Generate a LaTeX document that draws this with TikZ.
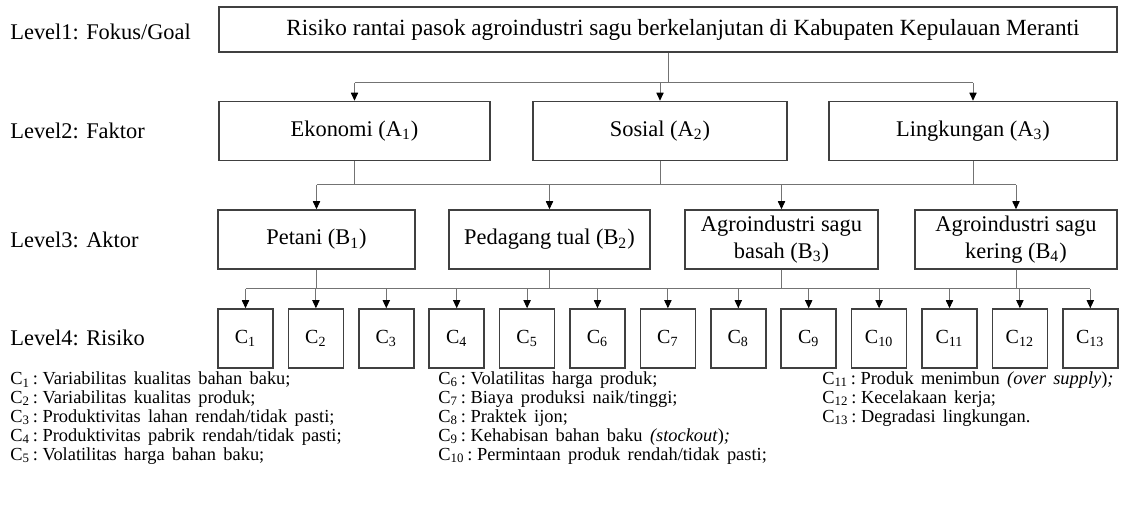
\documentclass[tikz,border=0pt]{standalone}
\usepackage{fontspec}
\setmainfont{Liberation Serif}
\usetikzlibrary{arrows.meta}

\newcommand\lgc[1]{C\textsubscript{#1}\hspace{0.15em}:\hspace{0.25em}}

\tikzset{
  lvl/.style={anchor=west, inner sep=0pt, font=\fontsize{11.2}{13}\selectfont},
  box/.style={draw=black!75, line width=0.75pt, inner sep=0pt, align=center, font=\fontsize{11.2}{13.5}\selectfont},
  lvbox/.style={box, minimum height=29.5pt},
  cbox/.style={box, minimum width=27.5pt, minimum height=29.5pt, font=\fontsize{10}{12}\selectfont},
  conn/.style={draw=black!55, line width=0.5pt},
  arr/.style={conn, -{Triangle[length=4pt, width=3.6pt, black]}},
  leg/.style={anchor=west, inner sep=0pt, font=\fontsize{9.2}{10}\selectfont,
    execute at begin node={\spaceskip 0.4em plus 0.1em\relax}},
}

\begin{document}
\begin{tikzpicture}[x=0.5pt, y=-0.5pt]
			%%%%% START %%%%%
			\useasboundingbox (0, 0) rectangle (1126, 517);
			
			\node[lvl] (lv1) at (10, 32) {Level1: Fokus/Goal};
			\node[lvl] (lv2) at (10, 131) {Level2: Faktor};
			\node[lvl] (lv3) at (10, 240) {Level3: Aktor};
			\node[lvl] (lv4) at (10, 338) {Level4: Risiko};
			
			\node[box, minimum width=449pt, minimum height=22.5pt, font=\fontsize{11.6}{13.5}\selectfont] (goal) at (668, 29.5) {\hspace*{15pt}Risiko rantai pasok agroindustri sagu berkelanjutan di Kabupaten Kepulauan Meranti};
			
			\node[lvbox, minimum width=135.5pt] (eko) at (354.5, 131) {Ekonomi (A\textsubscript{1})};
			\node[lvbox, minimum width=127pt] (sos) at (660, 131) {Sosial (A\textsubscript{2})};
			\node[lvbox, minimum width=144pt] (ling) at (973, 131) {Lingkungan (A\textsubscript{3})};
			
			\node[lvbox, minimum width=98.5pt] (pet) at (316.5, 239.5) {Petani (B\textsubscript{1})};
			\node[lvbox, minimum width=100.5pt] (ped) at (549.5, 239.5) {Pedagang tual (B\textsubscript{2})};
			\node[lvbox, minimum width=96.5pt] (bas) at (781.5, 239.5) {Agroindustri sagu\\basah (B\textsubscript{3})};
			\node[lvbox, minimum width=101pt] (ker) at (1016, 239.5) {Agroindustri sagu\\kering (B\textsubscript{4})};
			
			\node[cbox] (c1) at (245.5, 338.5) {C\textsubscript{1}};
			\node[cbox] (c2) at (315.9, 338.5) {C\textsubscript{2}};
			\node[cbox] (c3) at (386.3, 338.5) {C\textsubscript{3}};
			\node[cbox] (c4) at (456.7, 338.5) {C\textsubscript{4}};
			\node[cbox] (c5) at (527.1, 338.5) {C\textsubscript{5}};
			\node[cbox] (c6) at (597.5, 338.5) {C\textsubscript{6}};
			\node[cbox] (c7) at (667.9, 338.5) {C\textsubscript{7}};
			\node[cbox] (c8) at (738.3, 338.5) {C\textsubscript{8}};
			\node[cbox] (c9) at (808.7, 338.5) {C\textsubscript{9}};
			\node[cbox] (c10) at (879.1, 338.5) {C\textsubscript{10}};
			\node[cbox] (c11) at (949.5, 338.5) {C\textsubscript{11}};
			\node[cbox] (c12) at (1019.9, 338.5) {C\textsubscript{12}};
			\node[cbox] (c13) at (1090.3, 338.5) {C\textsubscript{13}};
			
			% level 1 -> level 2
			\coordinate (bar1) at (0, 83);
			\draw[conn] (goal.south) -- (goal.south |- bar1);
			\draw[conn] (eko.north |- bar1) -- (ling.north |- bar1);
			\draw[arr] (eko.north |- bar1) -- (eko.north);
			\draw[arr] (sos.north |- bar1) -- (sos.north);
			\draw[arr] (ling.north |- bar1) -- (ling.north);
			
			% level 2 -> level 3
			\coordinate (bar2) at (0, 185);
			\draw[conn] (eko.south) -- (eko.south |- bar2);
			\draw[conn] (sos.south) -- (sos.south |- bar2);
			\draw[conn] (ling.south) -- (ling.south |- bar2);
			\draw[conn] (pet.north |- bar2) -- (ker.north |- bar2);
			\draw[arr] (pet.north |- bar2) -- (pet.north);
			\draw[arr] (ped.north |- bar2) -- (ped.north);
			\draw[arr] (bas.north |- bar2) -- (bas.north);
			\draw[arr] (ker.north |- bar2) -- (ker.north);
			
			% level 3 -> level 4
			\coordinate (bar3) at (0, 289);
			\draw[conn] (pet.south) -- (pet.south |- bar3);
			\draw[conn] (ped.south) -- (ped.south |- bar3);
			\draw[conn] (bas.south) -- (bas.south |- bar3);
			\draw[conn] (ker.south) -- (ker.south |- bar3);
			\draw[conn] (c1.north |- bar3) -- (c13.north |- bar3);
			\draw[arr] (c1.north |- bar3) -- (c1.north);
			\draw[arr] (c2.north |- bar3) -- (c2.north);
			\draw[arr] (c3.north |- bar3) -- (c3.north);
			\draw[arr] (c4.north |- bar3) -- (c4.north);
			\draw[arr] (c5.north |- bar3) -- (c5.north);
			\draw[arr] (c6.north |- bar3) -- (c6.north);
			\draw[arr] (c7.north |- bar3) -- (c7.north);
			\draw[arr] (c8.north |- bar3) -- (c8.north);
			\draw[arr] (c9.north |- bar3) -- (c9.north);
			\draw[arr] (c10.north |- bar3) -- (c10.north);
			\draw[arr] (c11.north |- bar3) -- (c11.north);
			\draw[arr] (c12.north |- bar3) -- (c12.north);
			\draw[arr] (c13.north |- bar3) -- (c13.north);
			
			% legend
			\node[leg] (leg1) at (10, 380) {\lgc{1}Variabilitas kualitas bahan baku;};
			\node[leg] (leg2) at (10, 399) {\lgc{2}Variabilitas kualitas produk;};
			\node[leg] (leg3) at (10, 418) {\lgc{3}Produktivitas lahan rendah/tidak pasti;};
			\node[leg] (leg4) at (10, 437) {\lgc{4}Produktivitas pabrik rendah/tidak pasti;};
			\node[leg] (leg5) at (10, 456) {\lgc{5}Volatilitas harga bahan baku;};
			
			\node[leg] (leg6) at (438, 380) {\lgc{6}Volatilitas harga produk;};
			\node[leg] (leg7) at (438, 399) {\lgc{7}Biaya produksi naik/tinggi;};
			\node[leg] (leg8) at (438, 418) {\lgc{8}Praktek ijon;};
			\node[leg] (leg9) at (438, 437) {\lgc{9}Kehabisan bahan baku \textit{(stockout})\textit{;}};
			\node[leg] (leg10) at (438, 456) {\lgc{10}Permintaan produk rendah/tidak pasti;};
			
			\node[leg] (leg11) at (822, 380) {\lgc{11}Produk menimbun \textit{(over supply})\textit{;}};
			\node[leg] (leg12) at (822, 399) {\lgc{12}Kecelakaan kerja;};
			\node[leg] (leg13) at (822, 418) {\lgc{13}Degradasi lingkungan.};
			
			%%%%% END %%%%%
		\end{tikzpicture}
\end{document}
